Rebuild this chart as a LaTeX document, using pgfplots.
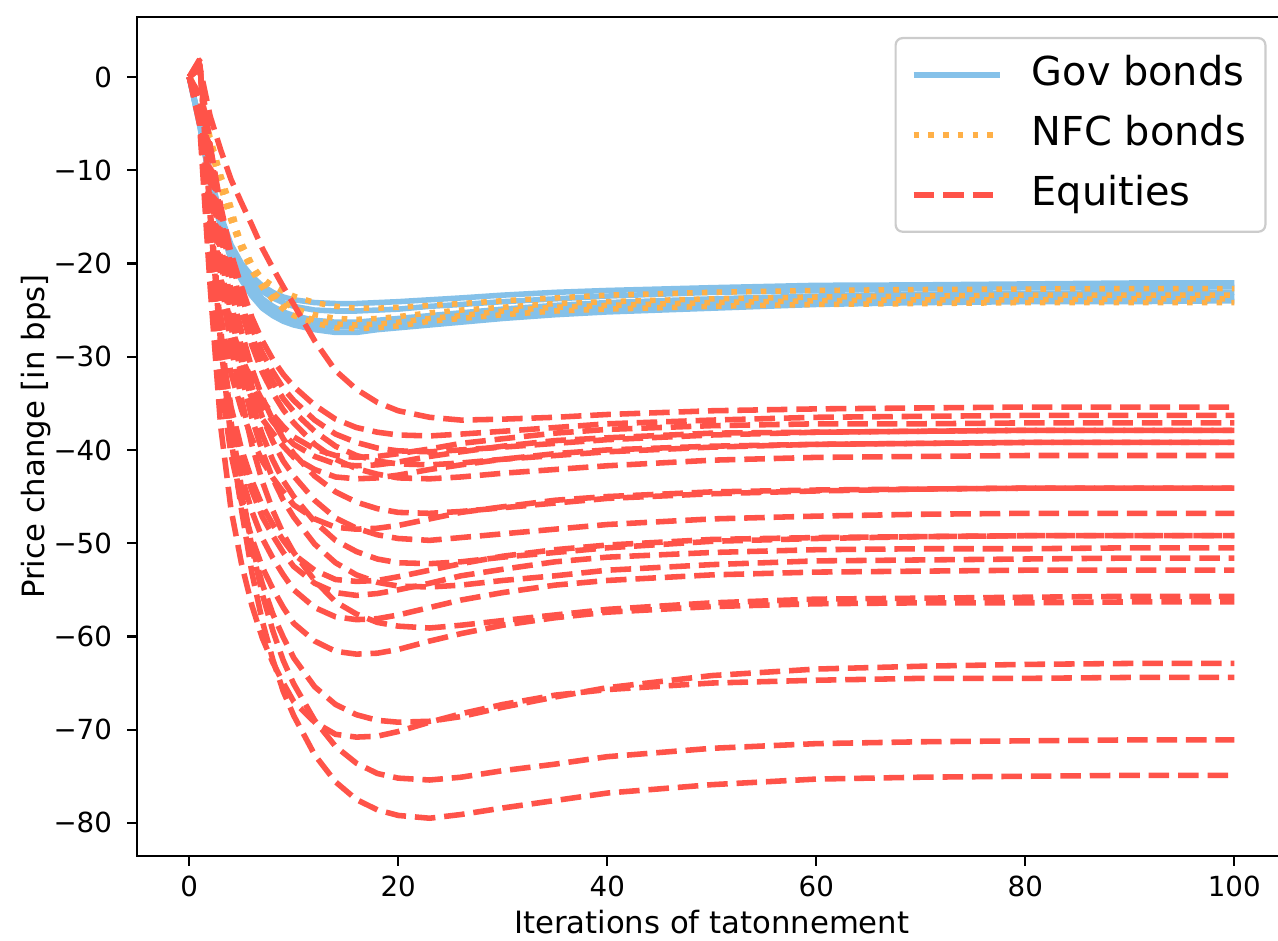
\documentclass[border=0pt]{standalone}
\usepackage{fontspec}
\setmainfont{DejaVu Sans}
\usepackage{pgfplots}
\usepackage{pgfplotstable}
\pgfplotsset{compat=1.18}
\definecolor{govc}{RGB}{133,193,233}
\definecolor{nfcc}{RGB}{255,176,71}
\definecolor{eqc}{RGB}{255,83,73}

\pgfplotstableread{
x g1 g2 g3 g4 g5 n1 n2 n3 n4 e1 e2 e3 e4 e5 e6 e7 e8 e9 e10 e11 e12 e13 e14 e15 e16 e17 e18 e19 e20 e21 e22
0 0 0 0 0 0 0 0 0 0 0 0 0 0 0 0 0 0 0 0 0 0 0 0 0 0 0 0 0 0 0 0
1 -4.8 -4.9 -5.0 -5.1 -5.2 -2.0 -2.0 -2.0 -2.1 1.1 0.9 -3.0 0.9 -3.0 1.0 -3.1 1.0 -3.5 1.1 1.2 -3.9 1.2 -4.0 1.3 -4.2 1.4 -4.5 -1.9 -5.2 1.8 1.9
2 -10.5 -10.7 -11.0 -11.2 -11.4 -6.5 -6.9 -7.1 -7.2 -4.2 -7.3 -13.0 -7.6 -13.3 -7.8 -13.7 -8.1 -15.4 -8.8 -9.4 -17.2 -9.8 -17.7 -10.3 -18.5 -11.1 -19.7 -15.7 -22.5 -14.2 -15.0
3 -14.8 -15.1 -15.5 -15.8 -16.1 -10.5 -11.4 -11.6 -11.8 -7.8 -13.8 -21.5 -14.4 -22.0 -14.9 -22.7 -15.4 -25.6 -16.8 -17.8 -28.5 -18.7 -29.3 -19.6 -30.7 -21.2 -32.7 -28.3 -37.4 -27.0 -28.5
4 -18.0 -18.3 -18.8 -19.2 -19.6 -14.0 -14.9 -15.2 -15.4 -11.0 -18.9 -26.7 -19.7 -27.3 -20.4 -28.2 -21.1 -31.8 -22.9 -24.3 -35.4 -25.6 -36.4 -26.8 -38.1 -29.0 -40.5 -37.7 -46.4 -37.0 -38.9
5 -20.0 -20.4 -21.0 -21.4 -21.8 -18.3 -17.8 -18.2 -18.5 -13.5 -22.5 -30.1 -23.5 -30.7 -24.3 -31.8 -25.2 -35.7 -27.3 -29.0 -39.9 -30.5 -40.9 -32.0 -42.8 -34.5 -45.6 -44.7 -52.2 -44.1 -46.4
6 -21.4 -21.9 -22.6 -23.1 -23.5 -20.3 -20.1 -20.5 -20.8 -15.9 -25.8 -32.6 -26.9 -33.4 -27.8 -34.5 -28.8 -38.8 -31.3 -33.2 -43.3 -34.9 -44.4 -36.6 -46.6 -39.5 -49.5 -50.3 -56.7 -50.5 -53.2
7 -22.4 -23.0 -23.8 -24.3 -24.8 -21.6 -21.8 -22.2 -22.6 -18.4 -28.3 -34.7 -29.6 -35.4 -30.6 -36.7 -31.7 -41.2 -34.4 -36.5 -46.0 -38.4 -47.2 -40.2 -49.5 -43.4 -52.6 -54.4 -60.2 -55.5 -58.4
8 -23.1 -23.7 -24.6 -25.1 -25.6 -22.4 -23.1 -23.5 -23.9 -20.5 -30.3 -36.2 -31.6 -37.0 -32.7 -38.2 -33.9 -43.0 -36.8 -39.1 -48.0 -41.1 -49.2 -43.1 -51.6 -46.5 -54.9 -57.6 -62.8 -59.4 -62.5
9 -23.6 -24.2 -25.2 -25.7 -26.2 -23.0 -24.1 -24.5 -24.9 -22.5 -31.9 -37.5 -33.4 -38.3 -34.5 -39.6 -35.7 -44.5 -38.8 -41.2 -49.7 -43.3 -51.0 -45.4 -53.4 -49.0 -56.9 -60.1 -65.0 -62.6 -65.9
10 -23.9 -24.6 -25.6 -26.1 -26.6 -23.5 -24.8 -25.3 -25.6 -24.4 -33.2 -38.6 -34.7 -39.4 -35.9 -40.8 -37.1 -45.9 -40.4 -42.8 -51.2 -45.0 -52.5 -47.2 -55.0 -51.0 -58.6 -62.3 -67.0 -65.1 -68.5
12 -24.2 -25.0 -26.1 -26.6 -27.1 -24.2 -25.5 -26.1 -26.4 -28.3 -35.2 -39.9 -36.8 -40.7 -38.0 -42.1 -39.4 -47.4 -42.8 -45.4 -52.9 -47.7 -54.3 -50.1 -56.9 -54.0 -60.5 -65.4 -69.2 -69.0 -72.7
14 -24.3 -25.1 -26.3 -26.8 -27.4 -24.6 -25.9 -26.5 -26.9 -31.5 -36.7 -40.6 -38.3 -41.5 -39.6 -42.9 -41.0 -48.3 -44.5 -47.3 -53.9 -49.7 -55.3 -52.1 -57.9 -56.3 -61.6 -67.3 -70.5 -71.8 -75.6
16 -24.3 -25.1 -26.3 -26.8 -27.4 -24.8 -26.0 -26.6 -27.0 -33.5 -37.6 -40.8 -39.2 -41.7 -40.6 -43.1 -42.0 -48.5 -45.6 -48.4 -54.1 -50.9 -55.6 -53.4 -58.2 -57.6 -61.9 -68.4 -70.8 -73.6 -77.5
18 -24.2 -25.0 -26.1 -26.6 -27.1 -24.8 -25.9 -26.5 -26.9 -34.9 -38.1 -40.7 -39.8 -41.6 -41.2 -43.0 -42.6 -48.4 -46.3 -49.1 -54.0 -51.7 -55.4 -54.2 -58.1 -58.5 -61.8 -69.0 -70.7 -74.7 -78.6
20 -24.1 -24.9 -25.9 -26.4 -26.9 -24.7 -25.7 -26.3 -26.7 -35.8 -38.4 -40.4 -40.1 -41.3 -41.5 -42.7 -43.0 -48.1 -46.7 -49.5 -53.6 -52.1 -55.0 -54.6 -57.7 -58.9 -61.4 -69.2 -70.2 -75.2 -79.2
23 -23.9 -24.6 -25.6 -26.1 -26.6 -24.5 -25.3 -25.9 -26.2 -36.5 -38.5 -39.9 -40.2 -40.7 -41.6 -42.1 -43.1 -47.4 -46.8 -49.7 -52.9 -52.2 -54.3 -54.7 -56.9 -59.1 -60.5 -69.1 -69.2 -75.4 -79.5
26 -23.7 -24.4 -25.3 -25.8 -26.3 -24.3 -25.0 -25.6 -25.9 -36.8 -38.3 -39.3 -40.0 -40.2 -41.4 -41.6 -42.9 -46.7 -46.6 -49.4 -52.2 -52.0 -53.5 -54.5 -56.1 -58.8 -59.7 -68.6 -68.3 -75.1 -79.1
30 -23.4 -24.1 -24.9 -25.4 -25.9 -24.0 -24.7 -25.1 -25.5 -36.7 -38.0 -38.8 -39.7 -39.6 -41.0 -41.0 -42.5 -46.1 -46.2 -49.0 -51.4 -51.5 -52.8 -54.0 -55.3 -58.3 -58.8 -67.6 -67.3 -74.4 -78.4
35 -23.1 -23.8 -24.5 -25.0 -25.5 -23.7 -24.3 -24.7 -25.1 -36.5 -37.6 -38.2 -39.3 -39.0 -40.6 -40.4 -42.1 -45.4 -45.7 -48.5 -50.7 -51.0 -52.0 -53.5 -54.5 -57.7 -58.0 -66.5 -66.3 -73.7 -77.6
40 -22.9 -23.5 -24.2 -24.7 -25.2 -23.4 -24.1 -24.5 -24.9 -36.2 -37.2 -37.8 -38.9 -38.7 -40.2 -40.0 -41.7 -45.0 -45.2 -48.0 -50.2 -50.5 -51.5 -52.9 -54.0 -57.1 -57.4 -65.5 -65.7 -72.9 -76.8
50 -22.6 -23.1 -23.8 -24.3 -24.8 -23.1 -23.8 -24.2 -24.6 -35.8 -36.8 -37.4 -38.4 -38.2 -39.7 -39.6 -41.1 -44.5 -44.7 -47.4 -49.6 -49.8 -51.0 -52.3 -53.4 -56.4 -56.8 -64.2 -65.0 -72.0 -75.9
60 -22.35 -22.9 -23.5 -24.0 -24.4 -22.9 -23.6 -24.0 -24.4 -35.6 -36.5 -37.2 -38.1 -38.1 -39.4 -39.4 -40.8 -44.3 -44.4 -47.1 -49.4 -49.5 -50.7 -51.9 -53.1 -56.0 -56.5 -63.5 -64.7 -71.5 -75.3
70 -22.3 -22.7 -23.3 -23.8 -24.2 -22.8 -23.5 -23.9 -24.3 -35.5 -36.4 -37.2 -38.0 -38.0 -39.3 -39.3 -40.7 -44.2 -44.2 -46.9 -49.3 -49.3 -50.6 -51.8 -53.0 -55.9 -56.4 -63.2 -64.5 -71.3 -75.1
80 -22.2 -22.6 -23.2 -23.7 -24.1 -22.75 -23.4 -23.9 -24.2 -35.4 -36.3 -37.1 -37.9 -37.9 -39.2 -39.2 -40.6 -44.1 -44.1 -46.8 -49.2 -49.2 -50.6 -51.7 -52.9 -55.8 -56.4 -63.0 -64.5 -71.2 -75.0
90 -22.1 -22.6 -23.15 -23.6 -24.1 -22.7 -23.4 -23.8 -24.2 -35.4 -36.3 -37.1 -37.9 -37.9 -39.2 -39.2 -40.6 -44.1 -44.1 -46.8 -49.2 -49.2 -50.5 -51.6 -52.9 -55.7 -56.3 -62.9 -64.4 -71.1 -74.9
100 -22.1 -22.5 -23.1 -23.6 -24.0 -22.7 -23.4 -23.8 -24.2 -35.4 -36.3 -37.1 -37.9 -37.9 -39.2 -39.2 -40.6 -44.1 -44.1 -46.8 -49.2 -49.2 -50.5 -51.6 -52.9 -55.7 -56.3 -62.9 -64.4 -71.1 -74.9
}\data

\pgfplotsset{
  govstyle/.style={govc, line width=2bp, line join=round},
  nfcstyle/.style={nfcc, line width=2bp, dash pattern=on 2bp off 3.3bp},
  eqstyle/.style={eqc, line width=2bp, dash pattern=on 7.4bp off 3.2bp, line join=round},
}

\begin{document}
\begin{tikzpicture}
\useasboundingbox (0,0) rectangle (460.08bp,338.76bp);
\clip (0,0) rectangle (460.08bp,338.76bp);
\begin{axis}[
  at={(49.32bp,30.6bp)}, anchor=south west,
  scale only axis, width=413.82bp, height=302.04bp,
  xmin=-5, xmax=105, ymin=-83.55, ymax=6.43,
  axis line style={line width=0.8bp},
  every tick/.style={line width=0.8bp, black},
  major tick length=3.5bp,
  tick align=outside,
  tick pos=left,
  xtick={0,20,40,60,80,100}, xticklabels={0,20,40,60,80,100},
  ytick={-80,-70,-60,-50,-40,-30,-20,-10,0},
  yticklabels={−80,−70,−60,−50,−40,−30,−20,−10,0},
  ticklabel style={font=\fontsize{10}{12}\selectfont},
  xticklabel style={yshift=0bp},
  yticklabel style={xshift=-2bp},
  xlabel={Iterations of tatonnement},
  ylabel={Price change [in bps]},
  xlabel style={font=\fontsize{11.1}{13}\selectfont, at={([yshift=-23.8bp]axis description cs:0.5,0)}, anchor=center},
  ylabel style={font=\fontsize{11.1}{13}\selectfont, at={([xshift=-36.5bp]axis description cs:0,0.5)}, anchor=center, rotate=0},
  legend style={at={(axis description cs:1,1)}, anchor=north east, xshift=-7.2bp, yshift=-7.2bp,
    draw=black!20, line width=0.8bp, rounded corners=2.5bp, fill=white,
    font=\fontsize{14.4}{17.28}\selectfont,
    inner xsep=5.5bp, inner ysep=5bp, row sep=5.1bp,
    nodes={inner sep=1.5bp, text height=10.5bp, text depth=3bp},
    /tikz/every odd column/.append style={column sep=9bp}},
  legend cell align=left,
  legend image code/.code={\draw[#1] (0bp,0bp) -- (31bp,0bp);},
]
\addplot[govstyle] table[x=x,y=g1] {\data}; \addlegendentry{Gov bonds}
\addplot[govstyle, forget plot] table[x=x,y=g2] {\data};
\addplot[govstyle, forget plot] table[x=x,y=g3] {\data};
\addplot[govstyle, forget plot] table[x=x,y=g4] {\data};
\addplot[govstyle, forget plot] table[x=x,y=g5] {\data};
\addplot[nfcstyle] table[x=x,y=n1] {\data}; \addlegendentry{NFC bonds}
\addplot[nfcstyle, forget plot] table[x=x,y=n2] {\data};
\addplot[nfcstyle, forget plot] table[x=x,y=n3] {\data};
\addplot[nfcstyle, forget plot] table[x=x,y=n4] {\data};
\addplot[eqstyle] table[x=x,y=e1] {\data}; \addlegendentry{Equities}
\foreach \k in {2,...,22} {
  \addplot[eqstyle, forget plot] table[x=x,y=e\k] {\data};
}
\end{axis}
\end{tikzpicture}
\end{document}
